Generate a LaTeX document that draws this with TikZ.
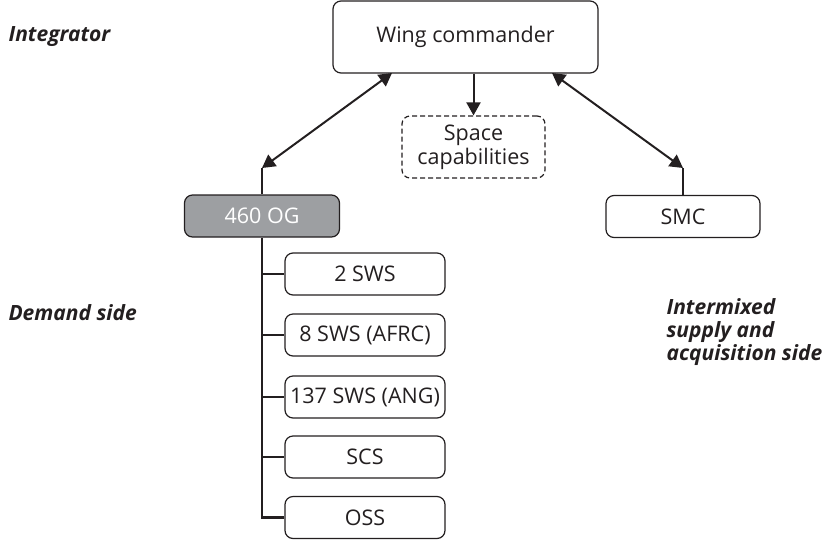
\documentclass[tikz,border=0pt]{standalone}
\usepackage{fontspec}
\setmainfont{Open Sans}
\usetikzlibrary{arrows.meta,positioning}
\definecolor{ink}{HTML}{231F20}
\definecolor{ogGrey}{HTML}{9D9FA2}

\begin{document}
\begin{tikzpicture}[x=1pt,y=-1pt,font=\fontsize{21.5}{24}\selectfont,
  unit/.style={draw=ink,line width=1.2pt,rounded corners=8pt,minimum height=42pt,align=center,text=ink,inner sep=1pt},
  link/.style={draw=ink,line width=2pt,{Triangle[length=13pt,width=14pt]}-{Triangle[length=13pt,width=14pt]}},
  tree/.style={draw=ink,line width=2.4pt},
  side/.style={font=\fontsize{21}{23}\selectfont\bfseries\itshape,text=ink,anchor=west,align=left}]
  \useasboundingbox (0,0) rectangle (827,539);
  % top level
  \node[unit,minimum width=265pt,minimum height=72pt] (wing) at (465.5,37) {Wing commander};
  \node[unit,dash pattern=on 5pt off 3pt,minimum width=143pt,minimum height=62pt] (space) at (473.5,147) {Space\\capabilities};
  \node[unit,fill=ogGrey,text=white,minimum width=155pt] (og) at (262,216) {460 OG};
  \node[unit,minimum width=154pt] (smc) at (683,216.5) {SMC};
  \coordinate (wl) at (392,73);
  \coordinate (wr) at (552,73);
  \coordinate (ogTop) at (262,168);
  \coordinate (smcTop) at (683,168);
  \draw[link] (wl) -- (ogTop);
  \draw[link] (wr) -- (smcTop);
  \draw[tree,line width=2pt] (ogTop) -- (og.north);
  \draw[tree,line width=2pt] (smcTop) -- (smc.north);
  \draw[draw=ink,line width=2pt,-{Triangle[length=13pt,width=14pt]}] (space.north |- wing.south) -- (space.north);
  % squadrons under the group
  \foreach \name/\txt/\y in {sws2/2 SWS/274, sws8/8 SWS (AFRC)/335, sws137/137 SWS (ANG)/397, scs/SCS/457, oss/OSS/517.5}{
    \node[unit,minimum width=160pt] (\name) at (365,\y) {\txt};
    \draw[tree] (og.south |- \name.west) -- (\name.west);}
  \draw[tree] (og.south) |- (oss.west);
  % side labels
  \node[side] (integ) at (5,37) {Integrator};
  \node[side] (demand) at (5,313) {Demand side};
  \node[side] (supply) at (663,332) {Intermixed\\supply and\\acquisition side};
\end{tikzpicture}
\end{document}
